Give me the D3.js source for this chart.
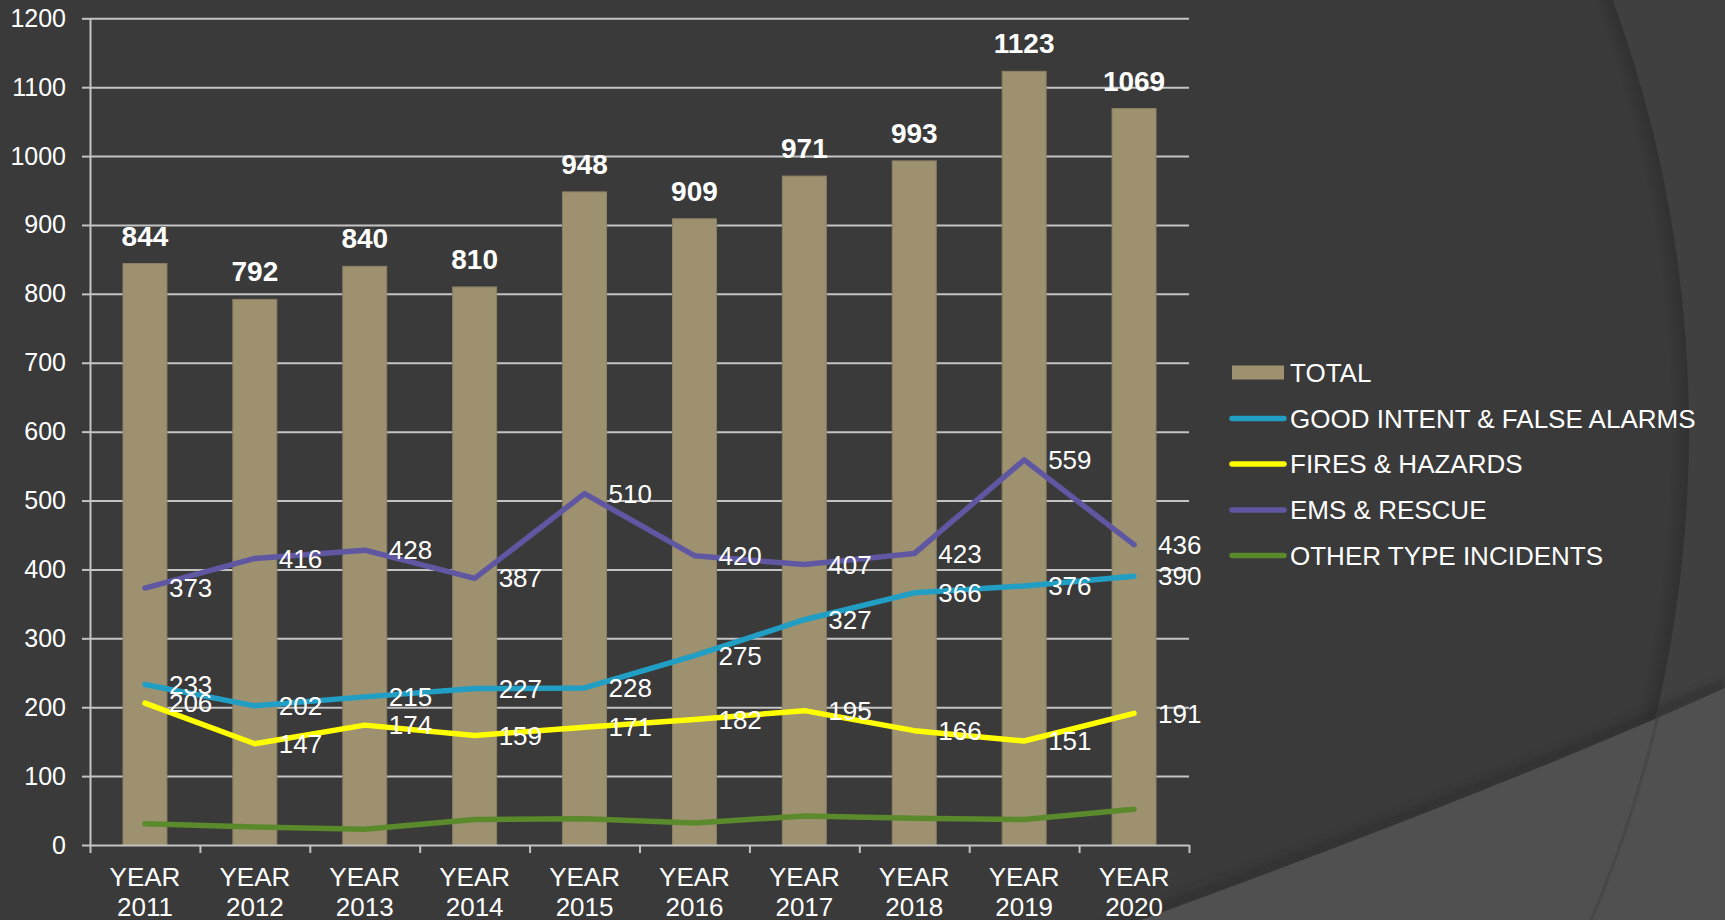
<!DOCTYPE html>
<html>
<head>
<meta charset="utf-8">
<script src="https://cdn.jsdelivr.net/npm/d3@7"></script>
<style>
  body { margin: 0; background: #3a3a3a; }
  svg { display: block; font-family: "Liberation Sans", Arial, sans-serif; }
</style>
</head>
<body>
<script>

// chart values
var years = ["2011", "2012", "2013", "2014", "2015", "2016", "2017", "2018", "2019", "2020"];
var total = [844, 792, 840, 810, 948, 909, 971, 993, 1123, 1069];
var goodIntent = [233, 202, 215, 227, 228, 275, 327, 366, 376, 390];
var fires = [206, 147, 174, 159, 171, 182, 195, 166, 151, 191];
var ems = [373, 416, 428, 387, 510, 420, 407, 423, 559, 436];
var other = [31, 26, 23, 37, 38, 32, 42, 39, 37, 52];
var yTicks = [0, 100, 200, 300, 400, 500, 600, 700, 800, 900, 1000, 1100, 1200];

var series = [
    {name: "GOOD INTENT & FALSE ALARMS", values: goodIntent, color: "#219ec4"},
    {name: "FIRES & HAZARDS", values: fires, color: "#ffff00"},
    {name: "EMS & RESCUE", values: ems, color: "#5f57a1"},
    {name: "OTHER TYPE INCIDENTS", values: other, color: "#5a8a2b"}
];

var w = 1725, h = 920;
const margin = {top: 18.3, left: 90, right: 536, bottom: 75};

const svg = d3.select("body").append("svg")
    .attr("width", w)
    .attr("height", h);

// ---- background shapes (slide theme) ----
const defs = svg.append("defs");
const rg = defs.append("radialGradient")
    .attr("id", "arcShade")
    .attr("gradientUnits", "userSpaceOnUse")
    .attr("cx", 439).attr("cy", 430).attr("r", 1250);
rg.append("stop").attr("offset", "0.985").attr("stop-color", "#3a3a3a");
rg.append("stop").attr("offset", "1").attr("stop-color", "#313131");

defs.append("filter").attr("id", "blur")
    .append("feGaussianBlur").attr("stdDeviation", 4);

svg.append("rect").attr("width", w).attr("height", h).attr("fill", "#404040");
svg.append("circle")
    .attr("cx", 439).attr("cy", 430).attr("r", 1250)
    .attr("fill", "url(#arcShade)");

// lower lighter swoosh
const swoosh = "M1100,935 Q1500,790 1725,688 L1725,920 L1100,920 Z";
svg.append("path").attr("d", "M1100,930 Q1500,785 1725,683")
    .attr("fill", "none").attr("stroke", "#2c2c2c").attr("stroke-width", 8)
    .attr("filter", "url(#blur)").attr("opacity", 0.7);
svg.append("path").attr("d", swoosh).attr("fill", "#505050");
defs.append("clipPath").attr("id", "swClip").append("path").attr("d", swoosh);
svg.append("circle")
    .attr("cx", 439).attr("cy", 430).attr("r", 1252)
    .attr("fill", "none").attr("stroke", "#474747").attr("stroke-width", 3)
    .attr("clip-path", "url(#swClip)");

// ---- scales ----
const x = d3.scaleBand()
    .domain(years)
    .range([90, 1189])
    .paddingInner(0.6)
    .paddingOuter(0.3);

const xEdge = d3.scaleLinear().domain([0, years.length]).range([90, 1189]);

const y = d3.scaleLinear()
    .domain([0, 1200])
    .range([845, margin.top]);

const cx = d => x(d) + x.bandwidth() / 2;

// gridlines
const grid = svg.append("g")
    .attr("transform", "translate(90,0)")
    .call(d3.axisLeft(y).tickValues(yTicks.slice(1)).tickSize(-1099).tickFormat(""));
grid.select(".domain").remove();
grid.selectAll("line").attr("stroke", "#c4c4c4").attr("stroke-width", 2);

// bars
svg.append("g").selectAll("rect")
    .data(years)
    .enter().append("rect")
    .attr("x", d => x(d))
    .attr("y", (d, i) => y(total[i]))
    .attr("width", x.bandwidth())
    .attr("height", (d, i) => y(0) - y(total[i]))
    .attr("fill", "#9e9170")
    .attr("stroke", "#8c8163")
    .attr("stroke-width", 1);

// bar labels
svg.append("g").selectAll("text")
    .data(years)
    .enter().append("text")
    .attr("x", d => cx(d))
    .attr("y", (d, i) => y(total[i]) - 18)
    .attr("text-anchor", "middle")
    .attr("fill", "#ffffff")
    .attr("font-size", 28)
    .attr("font-weight", "bold")
    .text((d, i) => total[i]);

// y axis
const yAxis = svg.append("g")
    .attr("transform", "translate(90,0)")
    .call(d3.axisLeft(y).tickValues(yTicks).tickFormat(d3.format("d"))
        .tickSize(8).tickPadding(16).tickSizeOuter(0));
yAxis.select(".domain").attr("stroke", "#c4c4c4").attr("stroke-width", 2);
yAxis.selectAll("line").attr("stroke", "#c4c4c4").attr("stroke-width", 2);
yAxis.selectAll("text").attr("fill", "#ffffff").attr("font-size", 25)
    .attr("font-family", "Liberation Sans, Arial, sans-serif");

// x axis: ticks at category edges
const xAxis = svg.append("g")
    .attr("transform", "translate(0,845)")
    .call(d3.axisBottom(xEdge).tickValues(d3.range(0, years.length + 1)).tickSize(8).tickFormat("").tickSizeOuter(0));
xAxis.select(".domain").attr("stroke", "#c4c4c4").attr("stroke-width", 2);
xAxis.selectAll("line").attr("stroke", "#c4c4c4").attr("stroke-width", 2);

// x labels from the band scale
const xLab = svg.append("g")
    .attr("transform", "translate(0,845)")
    .call(d3.axisBottom(x).tickSize(0).tickFormat(""));
xLab.select(".domain").remove();
xLab.selectAll(".tick").append("text")
    .attr("fill", "#ffffff")
    .attr("font-size", 26)
    .attr("font-family", "Liberation Sans, Arial, sans-serif")
    .attr("text-anchor", "middle")
    .each(function(d) {
        const t = d3.select(this);
        t.append("tspan").attr("x", 0).attr("y", 41).text("YEAR");
        t.append("tspan").attr("x", 0).attr("y", 71).text(d);
    });

// lines
const line = d3.line()
    .x((d, i) => cx(years[i]))
    .y(d => y(d));

const drawOrder = [series[3], series[1], series[0], series[2]];
svg.append("g").selectAll("path")
    .data(drawOrder)
    .enter().append("path")
    .attr("d", d => line(d.values))
    .attr("fill", "none")
    .attr("stroke", d => d.color)
    .attr("stroke-width", 5.5)
    .attr("stroke-linejoin", "round")
    .attr("stroke-linecap", "round");

// line value labels (right of point); other incidents has none
series.slice(0, 3).forEach(s => {
    svg.append("g").selectAll("text")
        .data(s.values)
        .enter().append("text")
        .attr("x", (d, i) => cx(years[i]) + 24)
        .attr("y", d => y(d))
        .attr("dy", "0.35em")
        .attr("fill", "#ffffff")
        .attr("font-size", 26)
        .text(d => d);
});

// legend
const legend = svg.append("g").attr("transform", "translate(1230,0)");
const legendY = [372.5, 418.5, 464, 510, 555.5];

legend.append("rect")
    .attr("x", 2).attr("y", legendY[0] - 7)
    .attr("width", 52).attr("height", 14)
    .attr("fill", "#9e9170");
legend.append("text")
    .attr("x", 60).attr("y", legendY[0]).attr("dy", "0.35em")
    .attr("fill", "#ffffff").attr("font-size", 26)
    .text("TOTAL");

series.forEach((s, i) => {
    legend.append("line")
        .attr("x1", 2).attr("x2", 54)
        .attr("y1", legendY[i + 1]).attr("y2", legendY[i + 1])
        .attr("stroke", s.color).attr("stroke-width", 5.5)
        .attr("stroke-linecap", "round");
    legend.append("text")
        .attr("x", 60).attr("y", legendY[i + 1]).attr("dy", "0.35em")
        .attr("fill", "#ffffff").attr("font-size", 26)
        .text(s.name);
});

</script>
</body>
</html>
